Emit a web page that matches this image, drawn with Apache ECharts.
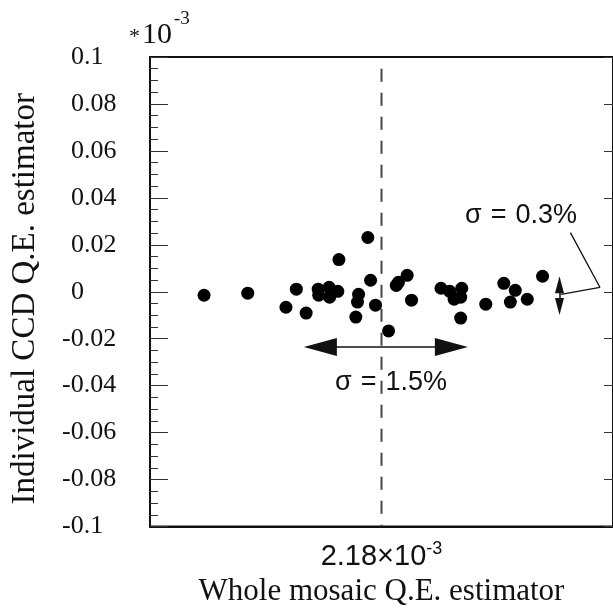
<!DOCTYPE html>
<html>
<head>
<meta charset="utf-8">
<script src="https://cdn.jsdelivr.net/npm/echarts@6/dist/echarts.min.js"></script>
<style>
	html, body { margin: 0; padding: 0; background: #fff; }
	#chart { width: 613px; height: 612px; }
</style>
</head>
<body>
<div id="chart"></div>
<script>
	// x: offset from the whole mosaic estimator, in percent (0 = 2.18e-3)
	var mosaicX = [-3.25, -2.45, -1.75, -1.56, -1.38, -1.16, -1.15, -0.96, -0.95, -0.80, -0.78,
		-0.47, -0.44, -0.42, -0.25, -0.20, -0.11, 0.13, 0.27, 0.31, 0.47, 0.55,
		1.09, 1.25, 1.33, 1.45, 1.47, 1.45, 1.91, 2.24, 2.36, 2.45, 2.67, 2.95];
	// y: individual CCD estimator, units of 1e-3
	var ccdY = [-0.0015, -0.0006, -0.0066, 0.0011, -0.0091, 0.0011, -0.0015, 0.0019, -0.0023, 0.0002, 0.0137,
		-0.0108, -0.0044, -0.0011, 0.0231, 0.0049, -0.0057, -0.0167, 0.0027, 0.0040, 0.0070, -0.0036,
		0.0015, 0.0002, -0.0032, -0.0023, 0.0015, -0.0112, -0.0053, 0.0036, -0.0044, 0.0006, -0.0032, 0.0066];

	// annotations
	var sigmaWide = [[-1.12, -0.0235], [1.28, -0.0235]];
	var sigmaNarrow = [[3.26, 0.0030], [3.26, -0.0063]];
	var leader = [[3.46, 0.0252], [4.0, 0.0019], [3.29, -0.0011]];
	var centerLine = [[0, 0.095], [0, -0.1]];

	var points = [];
	for (var i = 0; i < mosaicX.length; i++) {
		points.push([mosaicX[i], ccdY[i]]);
	}

	var serif = 'Liberation Serif';
	var sans = 'Liberation Sans';

	var option = {
		animation: false,
		backgroundColor: '#fff',
		grid: {
			left: 150,
			top: 57,
			width: 466,
			height: 473,
			show: true,
			borderColor: '#111',
			borderWidth: 2
		},
		xAxis: {
			type: 'value',
			min: -4.24,
			max: 4.24,
			name: '{a|2.18×10}{b|-3}\n{c|Whole mosaic Q.E. estimator}',
			nameLocation: 'middle',
			nameGap: 12,
			nameTextStyle: {
				rich: {
					a: { fontFamily: sans, fontSize: 29, color: '#111', lineHeight: 36 },
					b: { fontFamily: sans, fontSize: 18, color: '#111', padding: [0, 0, 14, 0], lineHeight: 36 },
					c: { fontFamily: serif, fontSize: 31, color: '#111', lineHeight: 34 }
				}
			},
			axisLine: { show: true, onZero: false, lineStyle: { color: '#111', width: 2 } },
			axisTick: { show: false },
			axisLabel: { show: false },
			splitLine: { show: false }
		},
		yAxis: [{
			type: 'value',
			min: -0.1,
			max: 0.1,
			interval: 0.02,
			name: 'Individual CCD Q.E. estimator',
			nameLocation: 'middle',
			nameGap: 108,
			nameTextStyle: { fontFamily: serif, fontSize: 33, color: '#111', padding: [0, 0, 0, -14] },
			axisLine: { show: true, onZero: false, lineStyle: { color: '#111', width: 2 } },
			axisTick: { show: true, inside: true, length: 18, lineStyle: { color: '#333' } },
			minorTick: { show: true, splitNumber: 4, length: 8, lineStyle: { color: '#333' } },
			axisLabel: {
				align: 'left',
				margin: 88,
				formatter: function (v) {
					var s = String(+v.toFixed(2));
					return s.charAt(0) === '-' ? '{n|' + s + '}' : '{p|' + s + '}';
				},
				rich: {
					n: { fontFamily: serif, fontSize: 26, color: '#111' },
					p: { fontFamily: serif, fontSize: 26, color: '#111', padding: [0, 0, 0, 9] }
				}
			},
			splitLine: { show: false }
		}, {
			type: 'value',
			position: 'right',
			min: -0.1,
			max: 0.1,
			interval: 0.02,
			axisLine: { show: true, onZero: false, lineStyle: { color: '#111', width: 2 } },
			axisTick: { show: true, inside: true, length: 9, lineStyle: { color: '#333' } },
			axisLabel: { show: false },
			splitLine: { show: false }
		}],
		graphic: [
			{ type: 'text', left: 129, top: 26, style: { text: '*', fontFamily: serif, fontSize: 22, fill: '#111' } },
			{ type: 'text', left: 142, top: 20, style: { text: '10', fontFamily: serif, fontSize: 30, fill: '#111' } },
			{ type: 'text', left: 174, top: 10, style: { text: '-3', fontFamily: serif, fontSize: 19, fill: '#111' } },
			{ type: 'text', left: 335, top: 369, style: { text: 'σ\u2004=\u20041.5%', fontFamily: sans, fontSize: 27, fill: '#111' } },
			{ type: 'text', left: 465, top: 202, style: { text: 'σ\u2004=\u20040.3%', fontFamily: sans, fontSize: 27, fill: '#111' } }
		],
		series: [{
			type: 'line',
			data: centerLine,
			symbol: 'none',
			silent: true,
			z: 1,
			lineStyle: { color: '#444', width: 2, type: [13, 11] }
		}, {
			type: 'line',
			data: leader,
			symbol: 'none',
			silent: true,
			z: 2,
			lineStyle: { color: '#111', width: 1.3 }
		}, {
			type: 'scatter',
			data: [],
			silent: true,
			z: 2,
			markLine: {
				silent: true,
				animation: false,
				label: { show: false },
				lineStyle: { color: '#111', width: 1.5, type: 'solid' },
				data: [
					[{ coord: sigmaWide[0], symbol: 'triangle', symbolSize: [18, 33] },
						{ coord: sigmaWide[1], symbol: 'triangle', symbolSize: [18, 33] }],
					[{ coord: sigmaNarrow[0], symbol: 'triangle', symbolSize: [9, 17] },
						{ coord: sigmaNarrow[1], symbol: 'triangle', symbolSize: [9, 17] }]
				]
			}
		}, {
			type: 'scatter',
			data: points,
			symbolSize: 13,
			z: 5,
			itemStyle: { color: '#000', opacity: 1 }
		}]
	};

	var myChart = echarts.init(document.getElementById('chart'));
	myChart.setOption(option);
</script>
</body>
</html>
